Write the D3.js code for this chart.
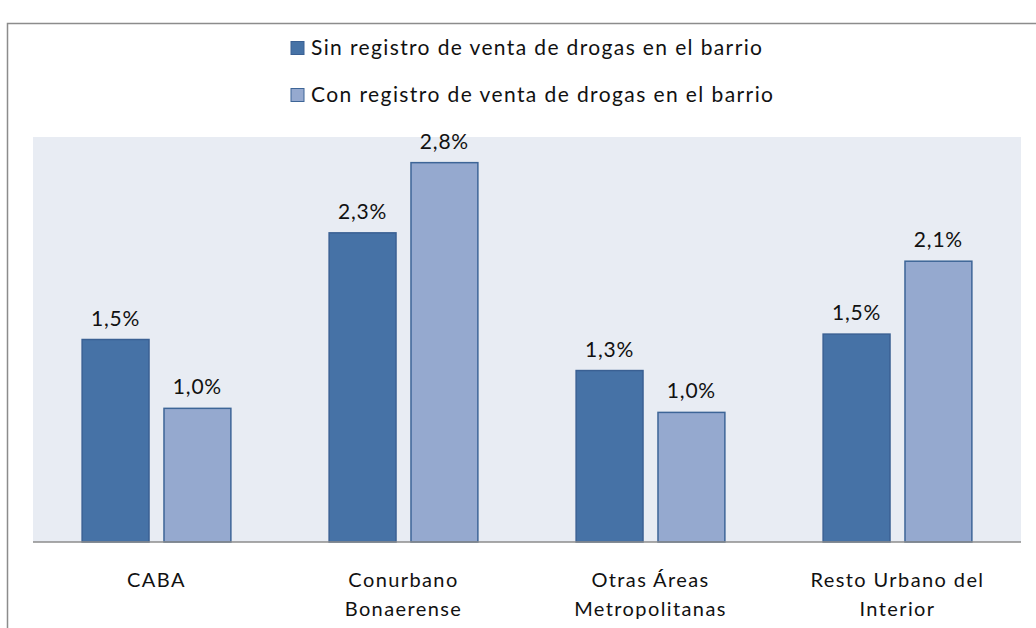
<!DOCTYPE html>
<html>
<head>
<meta charset="utf-8">
<script src="https://d3js.org/d3.v7.min.js"></script>
<style>
    body{ margin:0; background:#fff; }
    svg{ display:block; font-family:'Lato','Open Sans',sans-serif; }
</style>
</head>
<body>
<svg id="svg" width="1036" height="628"></svg>
<script>
    // categories (two-line labels) and series values in %
    var categories = ["CABA", "Conurbano Bonaerense", "Otras Áreas Metropolitanas", "Resto Urbano del Interior"];
    var catLines = [["CABA"], ["Conurbano", "Bonaerense"], ["Otras Áreas", "Metropolitanas"], ["Resto Urbano del", "Interior"]];
    var seriesNames = ["Sin registro de venta de drogas en el barrio", "Con registro de venta de drogas en el barrio"];
    var sinRegistro = [1.50, 2.29, 1.27, 1.54];
    var conRegistro = [0.99, 2.81, 0.96, 2.08];
    var yMax = 3.0;

    var fills = ["#4672a6", "#95a9cf"];
    var strokes = ["#3a6093", "#3d6597"];

    var svg = d3.select("svg");
    var width = +svg.attr("width");
    var height = +svg.attr("height");

    svg.append("rect").attr("width", width).attr("height", height).attr("fill", "#fff");

    // outer chart frame (right and bottom edges fall outside the picture)
    svg.append("rect")
        .attr("x", 7.5).attr("y", 23.5)
        .attr("width", 1200).attr("height", 800)
        .attr("fill", "none").attr("stroke", "#8c8c8c").attr("stroke-width", 1.5);

    var plot = {left: 33, right: 1021, top: 137, bottom: 542};

    var x = d3.scaleBand().domain(categories).range([plot.left, plot.right]).padding(0);
    var xs = d3.scaleBand().domain([0, 1]).range([0, x.bandwidth()])
        .paddingInner(0.183).paddingOuter(0.6);
    var y = d3.scaleLinear().domain([0, yMax]).range([plot.bottom, plot.top]);

    svg.append("rect")
        .attr("x", plot.left).attr("y", plot.top)
        .attr("width", plot.right - plot.left).attr("height", plot.bottom - plot.top)
        .attr("fill", "#e8ecf3");

    var rows = categories.map(function(c, i){
        return [{cat: c, s: 0, v: sinRegistro[i]}, {cat: c, s: 1, v: conRegistro[i]}];
    });

    var groups = svg.selectAll("g.cat").data(rows).enter().append("g")
        .attr("class", "cat")
        .attr("transform", function(d){ return "translate(" + x(d[0].cat) + ",0)"; });

    groups.selectAll("rect").data(function(d){ return d; }).enter().append("rect")
        .attr("x", function(d){ return xs(d.s); })
        .attr("y", function(d){ return y(d.v); })
        .attr("width", xs.bandwidth())
        .attr("height", function(d){ return y(0) - y(d.v); })
        .attr("fill", function(d){ return fills[d.s]; })
        .attr("stroke", function(d){ return strokes[d.s]; })
        .attr("stroke-width", 1.5);

    groups.selectAll("text.val").data(function(d){ return d; }).enter().append("text")
        .attr("class", "val")
        .attr("x", function(d){ return xs(d.s) + xs.bandwidth() / 2; })
        .attr("y", function(d){ return y(d.v) - 14; })
        .attr("text-anchor", "middle")
        .attr("font-size", 21)
        .attr("letter-spacing", 0.8)
        .attr("fill", "#111")
        .text(function(d){ return d.v.toFixed(1).replace(".", ",") + "%"; });

    // x axis line
    svg.append("line")
        .attr("x1", plot.left).attr("x2", plot.right)
        .attr("y1", plot.bottom).attr("y2", plot.bottom)
        .attr("stroke", "#8c8c8c").attr("stroke-width", 1.5);

    // category labels
    categories.forEach(function(c, i){
        var t = svg.append("text")
            .attr("x", x(c) + x.bandwidth() / 2)
            .attr("y", 587)
            .attr("text-anchor", "middle")
            .attr("font-size", 20)
            .attr("letter-spacing", 1.4)
            .attr("fill", "#111");
        catLines[i].forEach(function(line, j){
            t.append("tspan")
                .attr("x", x(c) + x.bandwidth() / 2)
                .attr("dy", j === 0 ? 0 : 29)
                .text(line);
        });
    });

    // legend
    var legend = svg.selectAll("g.legend").data(seriesNames).enter().append("g")
        .attr("class", "legend")
        .attr("transform", function(d, i){ return "translate(291," + (48 + i * 47) + ")"; });
    legend.append("rect")
        .attr("x", 0).attr("y", -6.5).attr("width", 13).attr("height", 13)
        .attr("fill", function(d, i){ return fills[i]; })
        .attr("stroke", function(d, i){ return strokes[i]; })
        .attr("stroke-width", 1);
    legend.append("text")
        .attr("x", 20).attr("y", 7)
        .attr("font-size", 21)
        .attr("fill", "#111")
        .attr("textLength", function(d, i){ return i === 0 ? 451 : 462; })
        .attr("lengthAdjust", "spacing")
        .text(function(d){ return d; });
</script>
</body>
</html>
